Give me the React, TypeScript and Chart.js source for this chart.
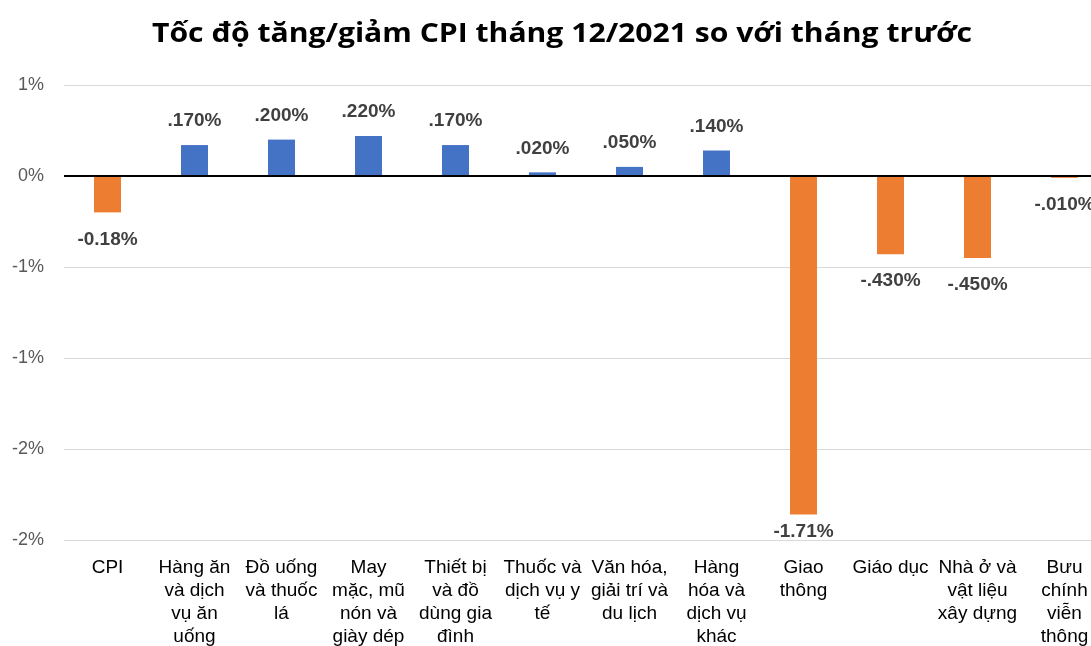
import React, { useEffect, useRef } from "react";
import { Chart, registerables } from "chart.js";

Chart.register(...registerables);

const TITLE = "Tốc độ tăng/giảm CPI tháng 12/2021 so với tháng trước";

const categories: string[][] = [
  ["CPI"],
  ["Hàng ăn", "và dịch", "vụ ăn", "uống"],
  ["Đồ uống", "và thuốc", "lá"],
  ["May", "mặc, mũ", "nón và", "giày dép"],
  ["Thiết bị", "và đồ", "dùng gia", "đình"],
  ["Thuốc và", "dịch vụ y", "tế"],
  ["Văn hóa,", "giải trí và", "du lịch"],
  ["Hàng", "hóa và", "dịch vụ", "khác"],
  ["Giao", "thông"],
  ["Giáo dục"],
  ["Nhà ở và", "vật liệu", "xây dựng"],
  ["Bưu", "chính", "viễn", "thông"],
];

const values: number[] = [-0.2, 0.17, 0.2, 0.22, 0.17, 0.02, 0.05, 0.14, -1.86, -0.43, -0.45, -0.01];

const valueLabels: string[] = [
  "-0.18%", ".170%", ".200%", ".220%", ".170%", ".020%", ".050%", ".140%", "-1.71%", "-.430%", "-.450%", "-.010%",
];

// y ticks from min to max: -2, -1.5, -1, -0.5, 0, 0.5
const yTickLabels: string[] = ["-2%", "-2%", "-1%", "-1%", "0%", "1%"];

const BLUE = "#4472C4";
const ORANGE = "#ED7D31";

export default function App() {
  const ref = useRef<HTMLCanvasElement | null>(null);

  useEffect(() => {
    const canvas = ref.current;
    if (!canvas) return;

    const titlePlugin = {
      id: "customTitle",
      afterDraw(chart: any) {
        const ctx = chart.ctx;
        ctx.save();
        ctx.font = 'bold 26px "Open Sans"';
        ctx.fillStyle = "#000000";
        ctx.textAlign = "center";
        ctx.textBaseline = "alphabetic";
        const target = 820;
        const w = ctx.measureText(TITLE).width;
        const sx = target / w;
        ctx.translate(562, 42);
        ctx.scale(sx, 1);
        ctx.fillText(TITLE, 0, 0);
        ctx.restore();
      },
    };

    const labelPlugin = {
      id: "valueLabels",
      afterDatasetsDraw(chart: any) {
        const ctx = chart.ctx;
        const meta = chart.getDatasetMeta(0);
        const area = chart.chartArea;
        ctx.save();
        ctx.font = 'bold 19px "Liberation Sans", Arial, sans-serif';
        ctx.fillStyle = "#404040";
        ctx.textAlign = "center";
        ctx.textBaseline = "middle";
        meta.data.forEach((bar: any, i: number) => {
          const v = values[i];
          let y: number;
          if (v >= 0) {
            y = bar.y - 24;
          } else {
            y = Math.min(bar.y + 27, area.bottom - 8);
          }
          ctx.fillText(valueLabels[i], bar.x, y);
        });
        ctx.restore();
      },
    };

    const chart = new Chart(canvas, {
      type: "bar",
      data: {
        labels: categories,
        datasets: [
          {
            data: values,
            backgroundColor: values.map((v) => (v >= 0 ? BLUE : ORANGE)),
            borderWidth: 0,
            barPercentage: 0.62,
            categoryPercentage: 0.5,
          },
        ],
      },
      options: {
        responsive: false,
        animation: false,
        layout: { padding: { top: 85, right: 2, left: 0, bottom: 0 } },
        plugins: {
          legend: { display: false },
          title: { display: false },
          tooltip: { enabled: false },
        },
        scales: {
          x: {
            grid: { display: false, drawTicks: false },
            border: { display: false },
            ticks: {
              color: "#000000",
              font: { family: '"Liberation Sans", Arial, sans-serif', size: 19, lineHeight: 23 / 19 },
              padding: 16,
              maxRotation: 0,
              minRotation: 0,
              autoSkip: false,
            },
            afterFit(scale: any) {
              scale.height = 160;
            },
          },
          y: {
            min: -2,
            max: 0.5,
            grid: {
              drawTicks: false,
              color: (c: any) => (c.tick && c.tick.value === 0 ? "#000000" : "#D9D9D9"),
              lineWidth: (c: any) => (c.tick && c.tick.value === 0 ? 2 : 1),
            },
            border: { display: false },
            ticks: {
              stepSize: 0.5,
              color: "#595959",
              font: { family: '"Liberation Sans", Arial, sans-serif', size: 18 },
              padding: 20,
              callback: (_v: any, i: number) => yTickLabels[i],
            },
            afterFit(scale: any) {
              scale.width = 64;
            },
          },
        },
      },
      plugins: [titlePlugin, labelPlugin],
    });

    return () => chart.destroy();
  }, []);

  return (
    <div
      style={{
        position: "fixed",
        left: 0,
        top: 0,
        width: 1091,
        height: 646,
        overflow: "hidden",
        background: "#ffffff",
      }}
    >
      <canvas ref={ref} width={1110} height={700} style={{ display: "block" }} />
    </div>
  );
}
